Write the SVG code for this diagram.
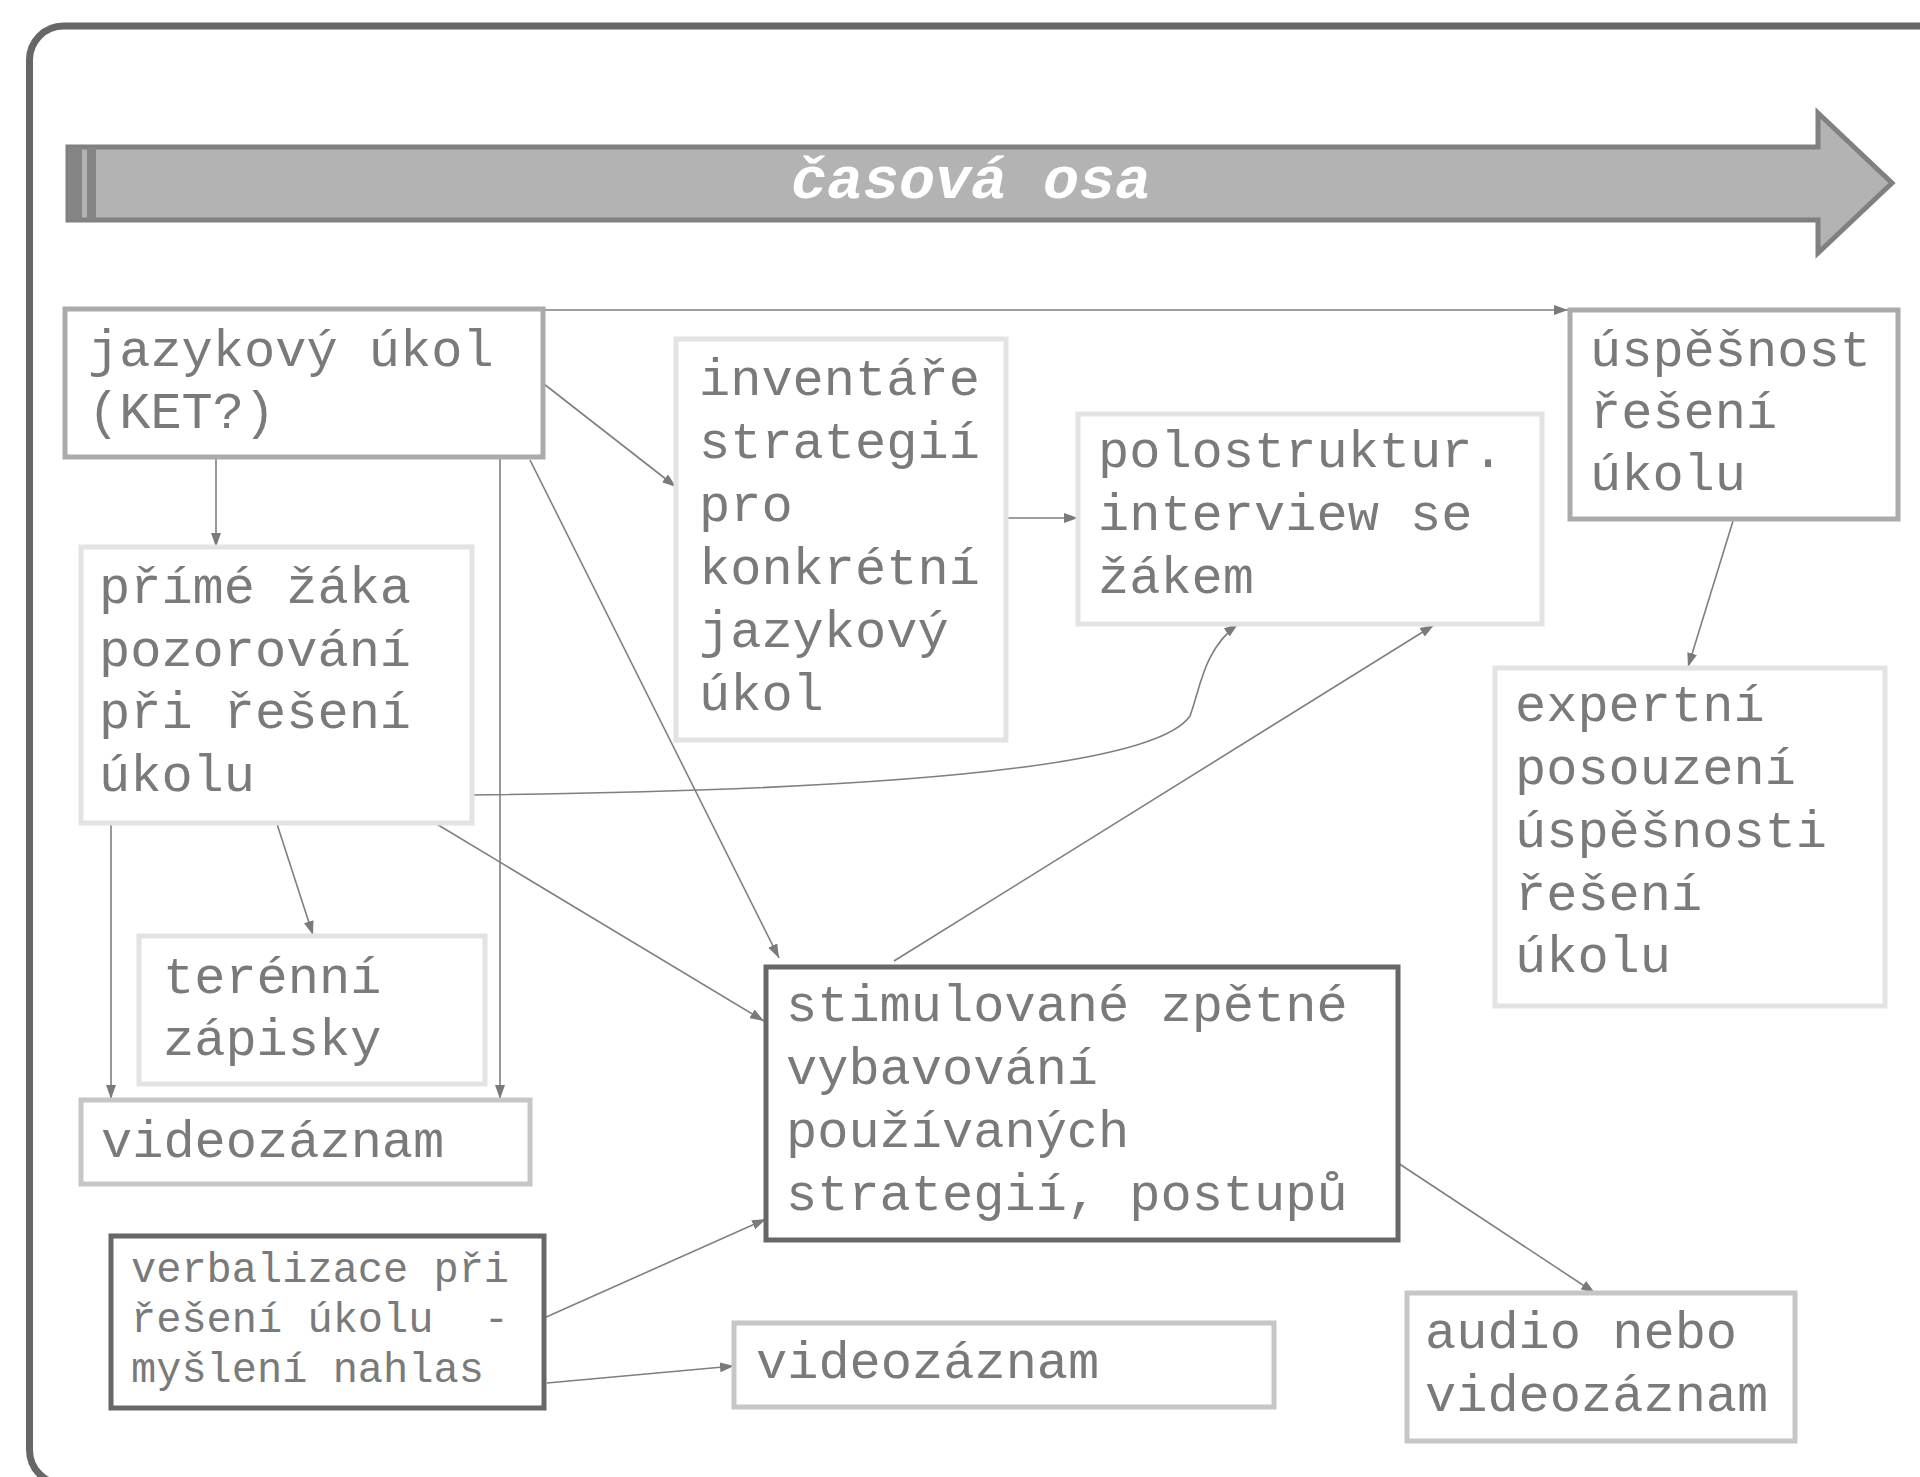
<svg xmlns="http://www.w3.org/2000/svg" width="1920" height="1477" viewBox="0 0 1920 1477">
<defs>
<style>
.t{font-family:"Courier New","Liberation Mono",monospace;font-weight:normal;font-size:52px;fill:#7a7a7a}
.ts{font-size:42px}
.bx{fill:#ffffff;stroke-width:5}
.b-mid{stroke:#ababab}
.b-light{stroke:#e3e3e3}
.b-soft{stroke:#c6c6c6}
.b-dark{stroke:#676767}
.c{fill:none;stroke:#7f7f7f;stroke-width:1.6}
</style>
<marker id="ah" viewBox="0 0 14 10" refX="14" refY="5" markerWidth="14" markerHeight="10" markerUnits="userSpaceOnUse" orient="auto">
<path d="M0,0 L14,5 L0,10 z" fill="#7a7a7a"/>
</marker>
</defs>
<rect width="1920" height="1477" fill="#ffffff"/>
<rect id="frame" x="29.5" y="26" width="1960" height="1458" rx="34" ry="34" fill="none" stroke="#676767" stroke-width="7"/>

<g id="timeline">
<polygon points="68,147 1818,147 1818,113 1892,183 1818,253 1818,220 68,220" fill="#b3b3b3" stroke="#808080" stroke-width="5" stroke-linejoin="miter"/>
<rect x="68" y="147" width="14" height="73" fill="#858585"/>
<rect x="87" y="147" width="9" height="73" fill="#858585"/>
<text x="971" y="198" text-anchor="middle" style="font-family:'Courier New','Liberation Mono',monospace;font-weight:bold;font-style:italic;font-size:60px;fill:#ffffff">časová osa</text>
</g>

<g id="connectors">
<path class="c" d="M543,310 L1568,310" marker-end="url(#ah)"/>
<path class="c" d="M544,384 L676,487" marker-end="url(#ah)"/>
<path class="c" d="M216,458 L216,547" marker-end="url(#ah)"/>
<path class="c" d="M500,458 L500,1099" marker-end="url(#ah)"/>
<path class="c" d="M530,460 L779,958" marker-end="url(#ah)"/>
<path class="c" d="M1006,518 L1078,518" marker-end="url(#ah)"/>
<path class="c" d="M469,795 C950,790 1160,760 1190,716 C1200,690 1203,650 1238,624" marker-end="url(#ah)"/>
<path class="c" d="M277,824 L313,935" marker-end="url(#ah)"/>
<path class="c" d="M111,823 L111,1099" marker-end="url(#ah)"/>
<path class="c" d="M425,817 L764,1021" marker-end="url(#ah)"/>
<path class="c" d="M894,961 L1434,625" marker-end="url(#ah)"/>
<path class="c" d="M1733,521 L1688,667" marker-end="url(#ah)"/>
<path class="c" d="M1398,1163 L1595,1293" marker-end="url(#ah)"/>
<path class="c" d="M544,1318 L766,1219" marker-end="url(#ah)"/>
<path class="c" d="M547,1383 L734,1366" marker-end="url(#ah)"/>
</g>

<g id="n-jazykovy">
<rect class="bx b-mid" x="65" y="309" width="478" height="148"/>
<text class="t" x="88" y="366">jazykový úkol</text>
<text class="t" x="88" y="428">(KET?)</text>
</g>

<g id="n-inventare">
<rect class="bx b-light" x="676" y="339" width="330" height="401"/>
<text class="t" x="699" y="395">inventáře</text>
<text class="t" x="699" y="458">strategií</text>
<text class="t" x="699" y="521">pro</text>
<text class="t" x="699" y="584">konkrétní</text>
<text class="t" x="699" y="647">jazykový</text>
<text class="t" x="699" y="710">úkol</text>
</g>

<g id="n-polostruktur">
<rect class="bx b-light" x="1078" y="414" width="464" height="210"/>
<text class="t" x="1098" y="467">polostruktur.</text>
<text class="t" x="1098" y="530">interview se</text>
<text class="t" x="1098" y="593">žákem</text>
</g>

<g id="n-uspesnost">
<rect class="bx b-mid" x="1570" y="310" width="328" height="209"/>
<text class="t" x="1590" y="366">úspěšnost</text>
<text class="t" x="1590" y="428">řešení</text>
<text class="t" x="1590" y="490">úkolu</text>
</g>

<g id="n-expertni">
<rect class="bx b-light" x="1495" y="668" width="390" height="338"/>
<text class="t" x="1515" y="721">expertní</text>
<text class="t" x="1515" y="784">posouzení</text>
<text class="t" x="1515" y="847">úspěšnosti</text>
<text class="t" x="1515" y="910">řešení</text>
<text class="t" x="1515" y="972">úkolu</text>
</g>

<g id="n-prime">
<rect class="bx b-light" x="81" y="547" width="391" height="276"/>
<text class="t" x="99" y="603">přímé žáka</text>
<text class="t" x="99" y="666">pozorování</text>
<text class="t" x="99" y="728">při řešení</text>
<text class="t" x="99" y="791">úkolu</text>
</g>

<g id="n-terenni">
<rect class="bx b-light" x="139" y="936" width="346" height="148"/>
<text class="t" x="163" y="993">terénní</text>
<text class="t" x="163" y="1055">zápisky</text>
</g>

<g id="n-video1">
<rect class="bx b-soft" x="81" y="1100" width="449" height="84"/>
<text class="t" x="101" y="1157">videozáznam</text>
</g>

<g id="n-verbalizace">
<rect class="bx b-dark" x="111" y="1236" width="433" height="172"/>
<text class="t ts" x="131" y="1282">verbalizace při</text>
<text class="t ts" x="131" y="1332" xml:space="preserve">řešení úkolu  -</text>
<text class="t ts" x="131" y="1382">myšlení nahlas</text>
</g>

<g id="n-stimulovane">
<rect class="bx b-dark" x="766" y="967" width="632" height="273"/>
<text class="t" x="786" y="1021">stimulované zpětné</text>
<text class="t" x="786" y="1084">vybavování</text>
<text class="t" x="786" y="1147">používaných</text>
<text class="t" x="786" y="1210">strategií, postupů</text>
</g>

<g id="n-video2">
<rect class="bx b-soft" x="734" y="1323" width="540" height="84"/>
<text class="t" x="756" y="1378">videozáznam</text>
</g>

<g id="n-audio">
<rect class="bx b-soft" x="1407" y="1293" width="388" height="148"/>
<text class="t" x="1425" y="1348">audio nebo</text>
<text class="t" x="1425" y="1411">videozáznam</text>
</g>
</svg>
